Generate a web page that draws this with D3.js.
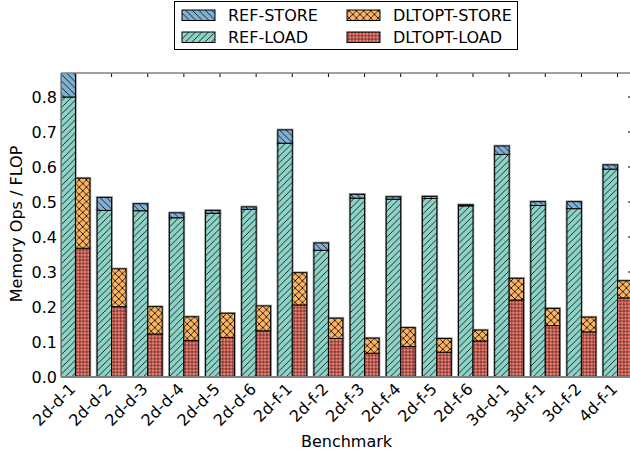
<!DOCTYPE html>
<html>
<head>
<meta charset="utf-8">
<script src="https://cdn.jsdelivr.net/npm/d3@7"></script>
<style>
  body { margin: 0; background: #fff; }
  svg { display: block; font-family: "DejaVu Sans", sans-serif; }
</style>
</head>
<body>
<div id="chart"></div>
<script>
const benchmarks = ['2d-d-1', '2d-d-2', '2d-d-3', '2d-d-4', '2d-d-5', '2d-d-6', '2d-f-1', '2d-f-2',
  '2d-f-3', '2d-f-4', '2d-f-5', '2d-f-6', '3d-d-1', '3d-f-1', '3d-f-2', '4d-f-1'];
const refLoad   = [0.800, 0.476, 0.475, 0.455, 0.468, 0.479, 0.668, 0.362, 0.511, 0.508, 0.510, 0.489, 0.636, 0.490, 0.481, 0.594];
const refStore  = [0.075, 0.037, 0.020, 0.014, 0.008, 0.007, 0.038, 0.021, 0.011, 0.007, 0.006, 0.003, 0.024, 0.011, 0.020, 0.012];
const dltLoad   = [0.368, 0.201, 0.123, 0.104, 0.113, 0.132, 0.206, 0.110, 0.068, 0.087, 0.071, 0.103, 0.220, 0.147, 0.129, 0.226];
const dltStore  = [0.200, 0.108, 0.078, 0.068, 0.069, 0.071, 0.092, 0.058, 0.043, 0.054, 0.039, 0.031, 0.062, 0.049, 0.042, 0.049];
const yTicks = [0.0, 0.1, 0.2, 0.3, 0.4, 0.5, 0.6, 0.7, 0.8];

const W = 630, H = 452;
const L = 61, R = 632, T = 73, B = 377;
const BAR_W = 0.4;

const svg = d3.select('#chart').append('svg').attr('width', W).attr('height', H);
const defs = svg.append('defs');

// ── Hatch patterns ──────────────────────────────────────────────────────────
function hatch(id, fill, size, d, lw) {
  const p = defs.append('pattern')
    .attr('id', id)
    .attr('patternUnits', 'userSpaceOnUse')
    .attr('width', size).attr('height', size);
  p.append('rect').attr('width', size).attr('height', size).attr('fill', fill);
  p.append('path').attr('d', d).attr('stroke', '#000').attr('stroke-width', lw).attr('fill', 'none');
}
const s1 = 6.5, s2 = 6.5, s3 = 7.2, s4 = 3.4;
// "\\"
hatch('h-refstore', '#80b1d3', s1, `M0,0L${s1},${s1}M-1,${s1 - 1}L1,${s1 + 1}M${s1 - 1},-1L${s1 + 1},1`, 0.8);
// "/"
hatch('h-refload', '#8dd3c7', s2, `M0,${s2}L${s2},0M-1,1L1,-1M${s2 - 1},${s2 + 1}L${s2 + 1},${s2 - 1}`, 0.8);
// "x"
hatch('h-dltstore', '#fdb462', s3, `M0,0L${s3},${s3}M0,${s3}L${s3},0`, 0.8);
// "+"
hatch('h-dltload', '#fb8072', s4, `M${s4 / 2},0V${s4}M0,${s4 / 2}H${s4}`, 0.5);

const series = [
  { name: 'REF-STORE',    fill: 'url(#h-refstore)' },
  { name: 'REF-LOAD',     fill: 'url(#h-refload)' },
  { name: 'DLTOPT-STORE', fill: 'url(#h-dltstore)' },
  { name: 'DLTOPT-LOAD',  fill: 'url(#h-dltload)' }
];

// ── Scales ──────────────────────────────────────────────────────────────────
const x = d3.scaleLinear().domain([-0.4, benchmarks.length - 0.6]).range([L, R]);
const y = d3.scaleLinear().domain([0, 0.8686]).range([B, T]);

defs.append('clipPath').attr('id', 'plot-clip')
  .append('rect').attr('x', L).attr('y', T).attr('width', R - L).attr('height', B - T);

// ticks (inward)
const tk = svg.append('g').attr('stroke', '#000').attr('stroke-width', 1);
yTicks.forEach(v => {
  tk.append('line').attr('x1', L).attr('x2', L + 4).attr('y1', y(v)).attr('y2', y(v));
  tk.append('line').attr('x1', R - 4).attr('x2', R).attr('y1', y(v)).attr('y2', y(v));
});
benchmarks.forEach((b, i) => {
  tk.append('line').attr('x1', x(i)).attr('x2', x(i)).attr('y1', T).attr('y2', T + 4);
  tk.append('line').attr('x1', x(i)).attr('x2', x(i)).attr('y1', B).attr('y2', B - 4);
});

// ── Bars ────────────────────────────────────────────────────────────────────
const segs = [];
benchmarks.forEach((b, i) => {
  segs.push({ x0: i - BAR_W, y0: 0, y1: refLoad[i], fill: series[1].fill });
  segs.push({ x0: i - BAR_W, y0: refLoad[i], y1: refLoad[i] + refStore[i], fill: series[0].fill });
  segs.push({ x0: i, y0: 0, y1: dltLoad[i], fill: series[3].fill });
  segs.push({ x0: i, y0: dltLoad[i], y1: dltLoad[i] + dltStore[i], fill: series[2].fill });
});

const gBars = svg.append('g').attr('clip-path', 'url(#plot-clip)');
gBars.selectAll('rect.halo')
  .data(segs)
  .join('rect')
  .attr('class', 'halo')
  .attr('x', d => x(d.x0))
  .attr('y', d => y(d.y1))
  .attr('width', d => x(d.x0 + BAR_W) - x(d.x0))
  .attr('height', d => y(d.y0) - y(d.y1))
  .attr('fill', 'none')
  .attr('stroke', '#999')
  .attr('stroke-width', 2.6);
gBars.selectAll('rect.bar')
  .data(segs)
  .join('rect')
  .attr('class', 'bar')
  .attr('x', d => x(d.x0))
  .attr('y', d => y(d.y1))
  .attr('width', d => x(d.x0 + BAR_W) - x(d.x0))
  .attr('height', d => y(d.y0) - y(d.y1))
  .attr('fill', d => d.fill)
  .attr('stroke', '#000')
  .attr('stroke-width', 1);

// ── Spines ──────────────────────────────────────────────────────────────────
const sp = svg.append('g').attr('stroke', '#808080').attr('fill', 'none');
sp.append('line').attr('x1', L).attr('x2', R).attr('y1', B).attr('y2', B).attr('stroke-width', 2);
sp.append('line').attr('x1', L).attr('x2', L).attr('y1', T).attr('y2', B).attr('stroke-width', 1.5);
sp.append('line').attr('x1', L).attr('x2', R).attr('y1', T).attr('y2', T).attr('stroke-width', 1.5);
sp.append('line').attr('x1', R).attr('x2', R).attr('y1', T).attr('y2', B).attr('stroke-width', 1.5);

// ── Labels ──────────────────────────────────────────────────────────────────
svg.append('g').selectAll('text')
  .data(yTicks)
  .join('text')
  .attr('x', L - 4)
  .attr('y', d => y(d))
  .attr('dy', '0.36em')
  .attr('text-anchor', 'end')
  .attr('font-size', 16)
  .text(d => d.toFixed(1));

svg.append('g').selectAll('text')
  .data(benchmarks)
  .join('text')
  .attr('transform', (d, i) => `translate(${x(i) + 1},${B + 13}) rotate(-45)`)
  .attr('text-anchor', 'end')
  .attr('font-size', 16)
  .text(d => d);

svg.append('text')
  .attr('transform', `translate(22,224) rotate(-90)`)
  .attr('text-anchor', 'middle')
  .attr('font-size', 16)
  .text('Memory Ops / FLOP');

svg.append('text')
  .attr('x', (L + R) / 2)
  .attr('y', 447)
  .attr('text-anchor', 'middle')
  .attr('font-size', 16)
  .text('Benchmark');

// ── Legend ──────────────────────────────────────────────────────────────────
const lg = svg.append('g');
lg.append('rect').attr('x', 174.5).attr('y', 1.5).attr('width', 343).attr('height', 48)
  .attr('fill', '#fff').attr('stroke', '#000').attr('stroke-width', 1);
const legendItems = [
  { s: series[0], col: 0, row: 0 },
  { s: series[1], col: 0, row: 1 },
  { s: series[2], col: 1, row: 0 },
  { s: series[3], col: 1, row: 1 }
];
legendItems.forEach(it => {
  const px = it.col === 0 ? 182 : 347;
  const py = it.row === 0 ? 10 : 32;
  lg.append('rect').attr('x', px).attr('y', py).attr('width', 33).attr('height', 10.5)
    .attr('fill', it.s.fill).attr('stroke', '#000').attr('stroke-width', 1);
  lg.append('text').attr('x', px + 46).attr('y', py + 10.5)
    .attr('font-size', 16).text(it.s.name);
});
</script>
</body>
</html>
